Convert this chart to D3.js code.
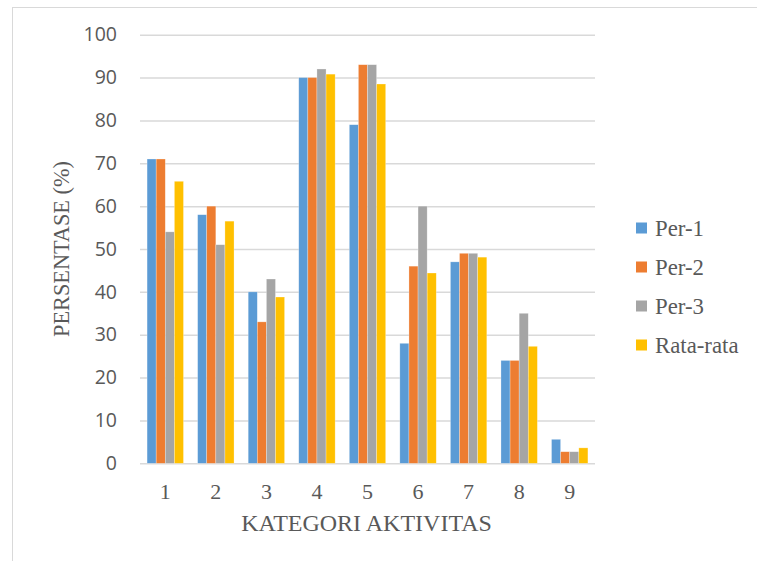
<!DOCTYPE html>
<html>
<head>
<meta charset="utf-8">
<script src="https://cdn.jsdelivr.net/npm/d3@7/dist/d3.min.js"></script>
<style>
  html, body { margin: 0; padding: 0; background: #fff; }
  svg { display: block; }
</style>
</head>
<body>
<svg id="chart" width="757" height="561"></svg>
<script>
// Activity categories and survey percentages per period
const categories = ["1", "2", "3", "4", "5", "6", "7", "8", "9"];
const seriesNames = ["Per-1", "Per-2", "Per-3", "Rata-rata"];
const per1 = [71, 58, 40, 90, 79, 28, 47, 24, 5.6];
const per2 = [71, 60, 33, 90, 93, 46, 49, 24, 2.7];
const per3 = [54, 51, 43, 92, 93, 60, 49, 35, 2.7];
const rataRata = [65.8, 56.5, 38.8, 90.8, 88.5, 44.4, 48.1, 27.3, 3.6];
const yTicks = [0, 10, 20, 30, 40, 50, 60, 70, 80, 90, 100];
const colors = ["#5B9BD5", "#ED7D31", "#A5A5A5", "#FFC000"];

const seriesValues = [per1, per2, per3, rataRata];

const svg = d3.select("#chart");
const serif = "'Liberation Serif', 'Times New Roman', serif";
const textColor = "#595959";

// outer chart frame
svg.append("rect")
  .attr("x", 12.5).attr("y", 7.5)
  .attr("width", 800).attr("height", 600)
  .attr("fill", "none").attr("stroke", "#d9d9d9").attr("stroke-width", 1);

const plot = { left: 140, right: 595, top: 34.7, bottom: 463.3 };

const x = d3.scaleBand()
  .domain(categories)
  .range([plot.left, plot.right])
  .paddingInner(0.28)
  .paddingOuter(0.14);

const xInner = d3.scaleBand()
  .domain(seriesNames)
  .range([0, x.bandwidth()]);

const y = d3.scaleLinear()
  .domain([0, 100])
  .range([plot.bottom, plot.top]);

// horizontal gridlines and y tick labels
const yAxis = d3.axisLeft(y)
  .tickValues(yTicks)
  .tickSize(-(plot.right - plot.left))
  .tickPadding(23)
  .tickFormat(d3.format("d"));

const gy = svg.append("g")
  .attr("transform", `translate(${plot.left},0)`)
  .call(yAxis);
gy.select(".domain").remove();
gy.selectAll(".tick line")
  .attr("stroke", "#d9d9d9").attr("stroke-width", 1.5);
gy.selectAll(".tick text")
  .attr("fill", textColor)
  .style("font-family", "'Open Sans', sans-serif")
  .style("font-size", "19.5px");

// bars
const groups = svg.append("g").selectAll("g")
  .data(categories)
  .join("g")
  .attr("transform", c => `translate(${x(c)},0)`);

groups.selectAll("rect")
  .data((c, i) => seriesNames.map((s, k) => ({ s, k, v: seriesValues[k][i] })))
  .join("rect")
  .attr("x", d => xInner(d.s))
  .attr("width", xInner.bandwidth())
  .attr("y", d => y(d.v))
  .attr("height", d => y(0) - y(d.v))
  .attr("fill", d => colors[d.k])
  .attr("stroke", "#ffffff")
  .attr("stroke-opacity", 0.45)
  .attr("stroke-width", 0.6);

// x axis labels
const xAxis = d3.axisBottom(x).tickSize(0).tickPadding(20);
const gx = svg.append("g")
  .attr("transform", `translate(0,${plot.bottom})`)
  .call(xAxis);
gx.select(".domain").remove();
gx.selectAll(".tick text")
  .attr("fill", textColor)
  .style("font-family", serif)
  .style("font-size", "22px");

// axis titles
svg.append("text")
  .attr("x", (plot.left + plot.right) / 2 - 1)
  .attr("y", 531)
  .attr("text-anchor", "middle")
  .attr("fill", textColor)
  .style("font-family", serif)
  .style("font-size", "24px")
  .text("KATEGORI AKTIVITAS");

svg.append("text")
  .attr("transform", "translate(69,249) rotate(-90)")
  .attr("text-anchor", "middle")
  .attr("fill", textColor)
  .style("font-family", serif)
  .style("font-size", "22.3px")
  .text("PERSENTASE (%)");

// legend
const legend = svg.append("g").selectAll("g")
  .data(seriesNames)
  .join("g")
  .attr("transform", (d, i) => `translate(636,${228 + i * 39})`);
legend.append("rect")
  .attr("x", 0).attr("y", -5.5)
  .attr("width", 11).attr("height", 11)
  .attr("fill", (d, i) => colors[i]);
legend.append("text")
  .attr("x", 19).attr("y", 0)
  .attr("dy", "0.35em")
  .attr("fill", textColor)
  .style("font-family", serif)
  .style("font-size", "22.8px")
  .text(d => d);
</script>
</body>
</html>
